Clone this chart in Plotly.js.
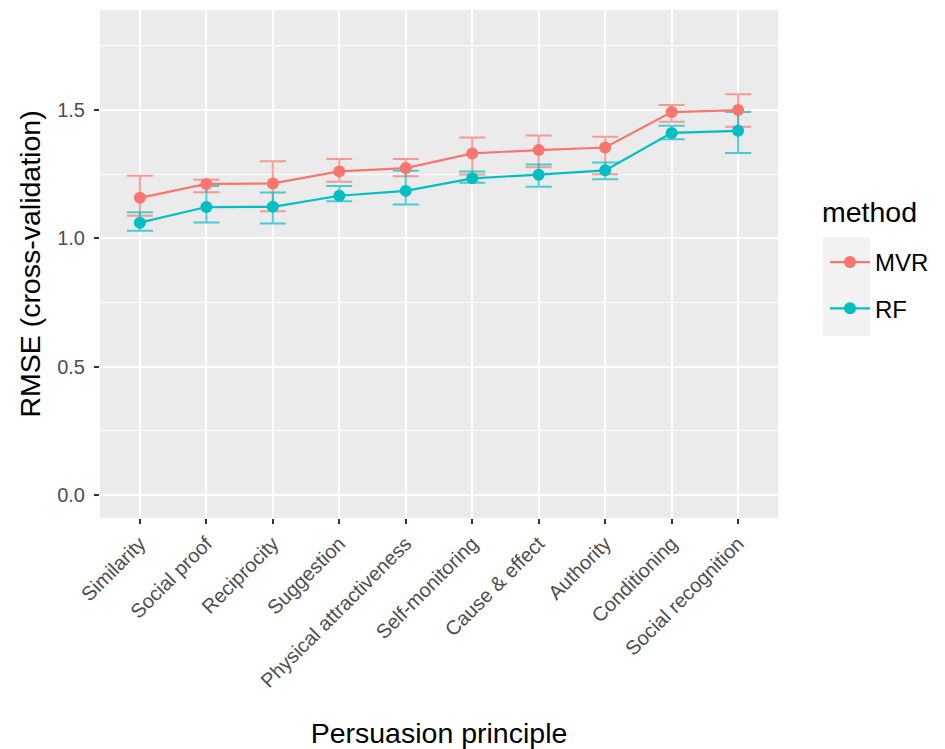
<!DOCTYPE html>
<html><head><meta charset="utf-8">
<script src="https://cdn.plot.ly/plotly-3.0.1.min.js"></script>
<style>body{margin:0;background:#fff}#chart{width:945px;height:749px}</style>
</head><body><div id="chart"></div>
<script>
const categories = ["Similarity","Social proof","Reciprocity","Suggestion","Physical attractiveness","Self-monitoring","Cause & effect","Authority","Conditioning","Social recognition"];
const mvr     = [1.158,1.212,1.214,1.261,1.274,1.331,1.344,1.354,1.492,1.500];
const mvrLow  = [1.088,1.180,1.106,1.221,1.242,1.249,1.277,1.250,1.454,1.435];
const mvrHigh = [1.244,1.228,1.300,1.309,1.309,1.393,1.401,1.396,1.520,1.562];
const rf      = [1.061,1.122,1.123,1.166,1.185,1.234,1.248,1.265,1.411,1.419];
const rfLow   = [1.030,1.062,1.058,1.145,1.132,1.217,1.201,1.230,1.386,1.333];
const rfHigh  = [1.102,1.204,1.179,1.204,1.263,1.261,1.288,1.296,1.439,1.492];
const legendTitle = 'method';

const RED = '#F8766D', TEAL = '#00BFC4';
function errTrace(y, lo, hi, color){
  return {x: categories, y: y, type:'scatter', mode:'none', showlegend:false, hoverinfo:'skip',
    error_y:{type:'data', symmetric:false,
      array: hi.map((h,i)=>h-y[i]), arrayminus: y.map((v,i)=>v-lo[i]),
      color: color, thickness: 2, width: 13}};
}
const traces = [
  errTrace(mvr, mvrLow, mvrHigh, 'rgba(248,118,109,0.7)'),
  errTrace(rf, rfLow, rfHigh, 'rgba(0,191,196,0.7)'),
  {x: categories, y: mvr, name:'MVR', legendgroup:'a', type:'scatter', mode:'lines+markers',
   line:{color:RED, width:2.2}, marker:{color:RED, size:12}},
  {x: categories, y: rf, name:'RF', legendgroup:'b', type:'scatter', mode:'lines+markers',
   line:{color:TEAL, width:2.2}, marker:{color:TEAL, size:12}}
];
const FONT = 'Liberation Sans, Arial, sans-serif';
const layout = {
  width:945, height:749,
  margin:{l:100, r:167, t:10, b:231, autoexpand:false},
  paper_bgcolor:'#fff', plot_bgcolor:'#EBEBEB',
  font:{family:FONT, color:'#000'},
  xaxis:{type:'category', range:[-0.6, 9.6], tickangle:-45,
    showgrid:true, gridcolor:'#fff', gridwidth:2.2, zeroline:false,
    ticks:'outside', ticklen:5, tickcolor:'#333', tickwidth:1.5,
    tickfont:{size:20, color:'#4D4D4D'},
    title:{text:'Persuasion principle', font:{size:28.5, color:'#000'}, standoff:35}},
  yaxis:{range:[-0.09, 1.89], tickvals:[0,0.5,1,1.5], ticktext:['0.0','0.5','1.0','1.5'],
    showgrid:true, gridcolor:'#fff', gridwidth:2.2, zeroline:false,
    minor:{tickvals:[0.25,0.75,1.25,1.75], showgrid:true, gridcolor:'#fff', gridwidth:1.1, ticks:''},
    ticks:'outside', ticklen:5, tickcolor:'#333', tickwidth:1.5, ticklabelstandoff:5,
    tickfont:{size:20, color:'#4D4D4D'},
    title:{text:'RMSE (cross-validation)', font:{size:28.5, color:'#000'}, standoff:8}},
  legend:{x:(825-100)/678, y:(749-231-240)/508, xanchor:'left', yanchor:'top', bgcolor:'rgba(0,0,0,0)',
    font:{size:24}, tracegroupgap:12, itemwidth:40},
  annotations:[{text:legendTitle, xref:'paper', yref:'paper', x:(820-100)/678, y:(749-231-212)/508,
    xanchor:'left', yanchor:'middle', showarrow:false, font:{size:28.5, color:'#000'}}],
  shapes:[{type:'rect', xref:'paper', yref:'paper', layer:'below',
    x0:(823-100)/678, x1:(870-100)/678, y0:(749-231-336)/508, y1:(749-231-237)/508,
    fillcolor:'#F2F2F2', line:{width:0}}]
};
Plotly.newPlot('chart', traces, layout, {displayModeBar:false});
</script></body></html>
